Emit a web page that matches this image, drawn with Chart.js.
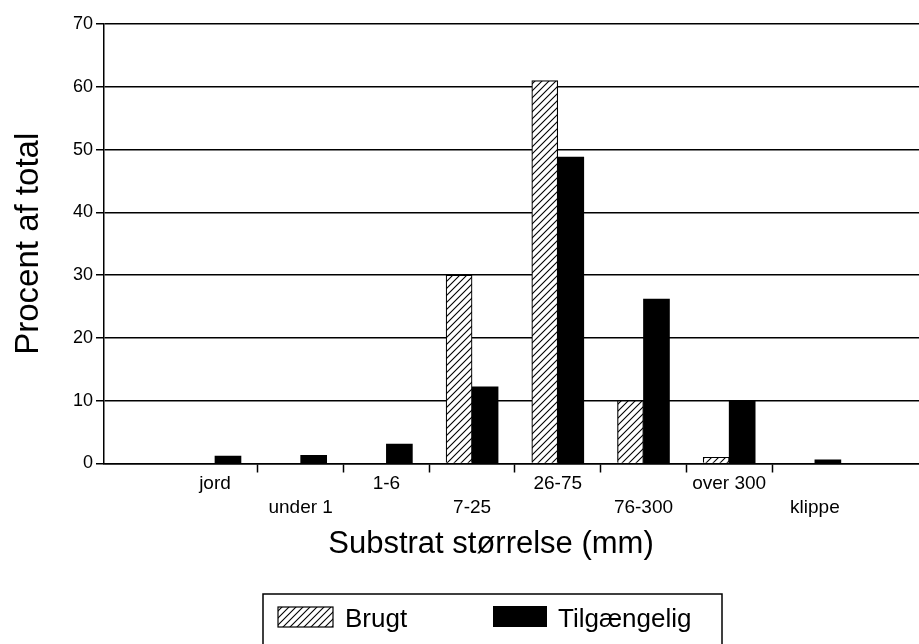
<!DOCTYPE html>
<html>
<head>
<meta charset="utf-8">
<script src="https://cdn.jsdelivr.net/npm/chart.js@4"></script>
<style>
  html, body { margin: 0; padding: 0; background: #fff; overflow: hidden; }
  canvas { display: block; }
</style>
</head>
<body>
<canvas id="c" width="919" height="644"></canvas>
<script>
// ---- data ----
const categories = ['jord', 'under 1', '1-6', '7-25', '26-75', '76-300', 'over 300', 'klippe'];
const brugt = [0, 0, 0, 30, 61, 10, 1, 0];
const tilgaengelig = [1.2, 1.3, 3.1, 12.2, 48.8, 26.2, 10, 0.6];
const yTickValues = [0, 10, 20, 30, 40, 50, 60, 70];
const seriesNames = ['Brugt', 'Tilgængelig'];
const xTitle = 'Substrat størrelse (mm)';
const yTitle = 'Procent af total';

const FONT = "'Liberation Sans', Arial, Helvetica, sans-serif";
Chart.defaults.font.family = FONT;
Chart.defaults.color = '#000';

// hatch pattern
function makeHatch() {
  const s = 7;
  const pc = document.createElement('canvas');
  pc.width = s; pc.height = s;
  const p = pc.getContext('2d');
  p.fillStyle = '#fff';
  p.fillRect(0, 0, s, s);
  p.strokeStyle = '#000';
  p.lineWidth = 1.1;
  p.beginPath();
  p.moveTo(-1, s + 1); p.lineTo(s + 1, -1);
  p.moveTo(-1, 1); p.lineTo(1, -1);
  p.moveTo(s - 1, s + 1); p.lineTo(s + 1, s - 1);
  p.stroke();
  return document.getElementById('c').getContext('2d').createPattern(pc, 'repeat');
}
const hatch = makeHatch();

const xTickValues = [];
for (let v = 0; v <= categories.length - 1; v += 0.5) xTickValues.push(v);

const customDraw = {
  id: 'customDraw',
  afterDraw(chart) {
    const ctx = chart.ctx;
    ctx.save();
    // x title
    ctx.fillStyle = '#000';
    ctx.font = '31px ' + FONT;
    ctx.textAlign = 'center';
    ctx.textBaseline = 'alphabetic';
    ctx.fillText(xTitle, 491, 553);
    // legend box
    ctx.strokeStyle = '#000';
    ctx.lineWidth = 1.5;
    ctx.strokeRect(263, 594, 459, 70);
    // item 1
    ctx.fillStyle = hatch;
    ctx.fillRect(278, 607, 55, 20);
    ctx.lineWidth = 1.2;
    ctx.strokeRect(278, 607, 55, 20);
    ctx.fillStyle = '#000';
    ctx.font = '26px ' + FONT;
    ctx.textAlign = 'left';
    ctx.fillText(chart.data.datasets[0].label, 345, 627);
    // item 2
    ctx.fillRect(493, 606, 54, 21);
    ctx.fillText(chart.data.datasets[1].label, 558, 627);
    ctx.restore();
  }
};

new Chart(document.getElementById('c'), {
  type: 'bar',
  data: {
    datasets: [
      {
        label: seriesNames[0],
        data: categories.map((c, i) => ({ x: i, y: brugt[i] })),
        backgroundColor: hatch,
        borderColor: '#000',
        borderWidth: 1.2,
        barThickness: 26
      },
      {
        label: seriesNames[1],
        data: categories.map((c, i) => ({ x: i, y: tilgaengelig[i] })),
        backgroundColor: '#000',
        borderColor: '#000',
        borderWidth: 0,
        barThickness: 26
      }
    ]
  },
  options: {
    responsive: false,
    animation: false,
    devicePixelRatio: 1,
    layout: { padding: { top: 24, left: 0, right: 0, bottom: 0 } },
    plugins: {
      legend: { display: false },
      tooltip: { enabled: false }
    },
    scales: {
      x: {
        type: 'linear',
        offset: false,
        min: -1.295,
        max: 8.215,
        afterBuildTicks(scale) {
          scale.ticks = xTickValues.map(v => ({ value: v }));
        },
        afterFit(scale) { scale.height = 180.5; },
        ticks: {
          autoSkip: false,
          maxRotation: 0,
          minRotation: 0,
          padding: -1,
          font: { size: 19, lineHeight: '24px' },
          color: '#000',
          callback(value) {
            if (!Number.isInteger(value)) return '';
            const lab = categories[value];
            return value % 2 === 0 ? lab : ['', lab];
          }
        },
        grid: {
          offset: false,
          drawOnChartArea: false,
          drawTicks: true,
          tickLength: 9,
          tickWidth: 1.5,
          tickColor: (ctx) => (ctx.tick && Number.isInteger(ctx.tick.value)) ? 'rgba(0,0,0,0)' : '#000'
        },
        border: { display: true, color: '#000', width: 1.5 }
      },
      y: {
        min: 0,
        max: 70,
        afterBuildTicks(scale) {
          scale.ticks = yTickValues.map(v => ({ value: v }));
        },
        afterFit(scale) { scale.width = 104; },
        ticks: {
          font: { size: 18 },
          color: '#000',
          padding: 3
        },
        grid: {
          color: '#000',
          lineWidth: 1.5,
          tickLength: 8,
          tickColor: '#000',
          tickWidth: 1.5
        },
        border: { display: true, color: '#000', width: 1.5 },
        title: {
          display: true,
          text: yTitle,
          font: { size: 33 },
          color: '#000',
          padding: { top: 9, bottom: 0 }
        }
      }
    }
  },
  plugins: [customDraw]
});
</script>
</body>
</html>
